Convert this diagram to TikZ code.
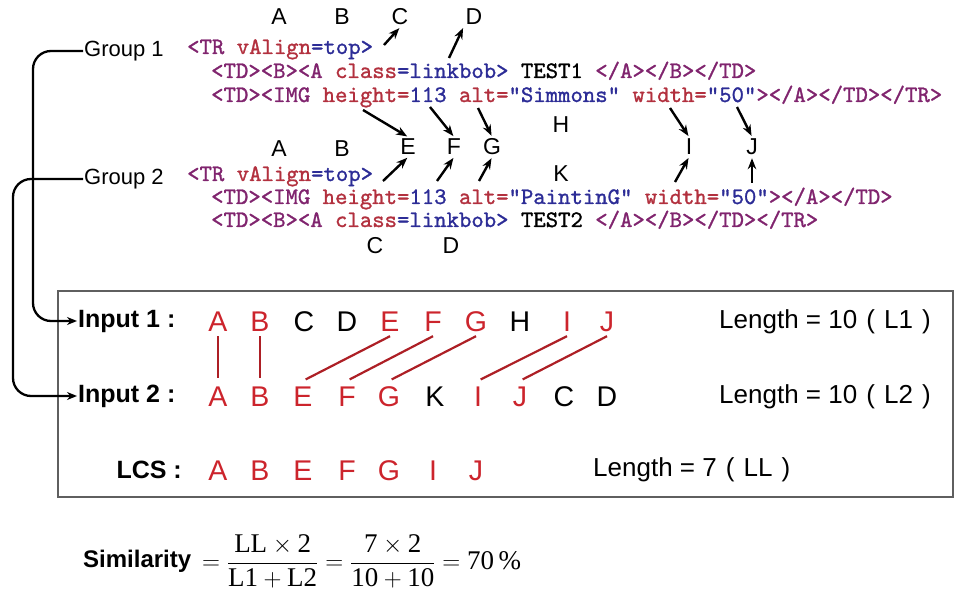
\documentclass[tikz,border=0pt]{standalone}
\usepackage{fontspec}
\setmainfont{Liberation Serif}
\newfontfamily\arial{Liberation Sans}
\newfontfamily\codefont{lmmono10-regular.otf}[FakeBold=1.2]
\usetikzlibrary{arrows.meta,calc}

\definecolor{tagc}{RGB}{128,36,110}
\definecolor{attc}{RGB}{178,48,62}
\definecolor{valc}{RGB}{44,44,150}
\definecolor{lcsred}{RGB}{204,36,44}
\definecolor{framec}{RGB}{95,95,95}

% token colouring for the HTML snippets
\newcommand\tg[1]{\textcolor{tagc}{#1}}
\newcommand\at[1]{\textcolor{attc}{#1}}
\newcommand\vl[1]{\textcolor{valc}{#1}}

\tikzset{
  code/.style={font=\codefont\frenchspacing\fontsize{23.6}{24}\selectfont, inner sep=0pt, anchor=base west},
  tag/.style={font=\arial\fontsize{23}{25}\selectfont, inner sep=2pt},
  grp/.style={font=\arial\fontsize{22}{24}\selectfont, inner sep=1pt, anchor=west},
  arr/.style={-{Stealth[length=11pt,width=8.5pt]}, line width=2.4pt, shorten >=1pt},
  conn/.style={-{Stealth[length=10pt,width=8pt]}, line width=2.3pt, rounded corners=18pt},
  seq/.style={font=\arial\fontsize{28.5}{30}\selectfont, text height=20pt, text depth=0pt, inner xsep=2pt, inner ysep=5pt},
  rowlab/.style={font=\arial\bfseries\fontsize{25}{28}\selectfont, inner sep=1pt},
  len/.style={font=\arial\fontsize{26}{28}\selectfont, anchor=west, inner sep=0pt},
  match/.style={draw=lcsred!85!black, line width=2.2pt},
  frame/.style={draw=framec, line width=1.8pt},
}

\begin{document}
\begin{tikzpicture}[x=1pt, y=-1pt]
\useasboundingbox (0,0) rectangle (959,596);

% ---- first group of table cells ----
\node[grp] (g1) at (83,51) {Group 1};
\node[code] (g1a) at (187,54) {\tg{<TR} \at{vAlign}\vl{=top>}};
\node[code] (g1b) at (211,78) {\tg{<TD><B><A} \at{class}\vl{=linkbob>} TEST1 \tg{</A></B></TD>}};
\node[code] (g1c) at (211,102) {\tg{<TD><IMG} \at{height=}\vl{113} \at{alt=}\vl{"Simmons"} \at{width=}\vl{"50"}\tg{></A></TD></TR>}};

\node[tag] (tA) at (279,17) {A};
\node[tag] (tB) at (342,17) {B};
\node[tag] (tC) at (400,17) {C};
\node[tag] (tD) at (474,17) {D};

% ---- shared letters between the groups ----
\node[tag] (mE) at (408,147) {E};
\node[tag] (mF) at (454,147) {F};
\node[tag] (mG) at (492,147) {G};
\node[tag] (mH) at (561,125) {H};
\node[tag] (mI) at (689,147) {I};
\node[tag] (mJ) at (752,147) {J};

% ---- second group of table cells ----
\node[grp] (g2) at (83,179) {Group 2};
\node[tag] (uA) at (279,149) {A};
\node[tag] (uB) at (342,149) {B};
\node[tag] (mK) at (561,174) {K};
\node[code] (g2a) at (187,181) {\tg{<TR} \at{vAlign}\vl{=top>}};
\node[code] (g2b) at (211,204) {\tg{<TD><IMG} \at{height=}\vl{113} \at{alt=}\vl{"PaintinG"} \at{width=}\vl{"50"}\tg{></A></TD>}};
\node[code] (g2c) at (211,227) {\tg{<TD><B><A} \at{class}\vl{=linkbob>} TEST2 \tg{</A></B></TD></TR>}};
\node[tag] (bC) at (375,246) {C};
\node[tag] (bD) at (451,246) {D};

% ---- pointer arrows ----
\coordinate (cT) at (384,45);
\coordinate (dT) at (449,58);
\draw[arr] (cT) -- (tC.south);
\draw[arr] (dT) -- (tD.south west);

\coordinate (eT1) at (363,110);
\coordinate (fT1) at (430,107);
\coordinate (gT1) at (478,108);
\coordinate (iT1) at (670,108);
\coordinate (jT1) at (737,107);
\draw[arr] (eT1) -- (mE.north);
\draw[arr] (fT1) -- (mF.north);
\draw[arr] (gT1) -- (mG.north);
\draw[arr] (iT1) -- (mI.north);
\draw[arr] (jT1) -- (mJ.north);

\coordinate (eT2) at (383,181);
\coordinate (fT2) at (437,181);
\coordinate (gT2) at (479,181);
\coordinate (iT2) at (675,182);
\coordinate (jT2) at (752,183);
\draw[arr] (eT2) -- (mE.south);
\draw[arr] (fT2) -- (mF.south);
\draw[arr] (gT2) -- (mG.south);
\draw[arr] (iT2) -- (mI.south);
\draw[arr] (jT2) -- (mJ.south);

% ---- comparison panel ----
\draw[frame] (58,291) rectangle (953,497);

\node[rowlab, anchor=west] (in1) at (77,321) {Input 1 :};
\node[rowlab, anchor=west] (in2) at (77,396) {Input 2 :};
\node[rowlab, anchor=east] (lcs) at (183,470) {LCS :};

\foreach \l/\x/\c in {A/218/lcsred, B/260/lcsred, C/304/black, D/347/black, E/390/lcsred,
                      F/433/lcsred, G/476/lcsred, H/520/black, I/567/lcsred, J/607/lcsred}
  \node[seq, text=\c] (r1\l) at (\x,321) {\l};
\foreach \l/\x/\c in {A/218/lcsred, B/260/lcsred, E/303/lcsred, F/347/lcsred, G/389/lcsred,
                      K/435/black, I/478/lcsred, J/520/lcsred, C/564/black, D/607/black}
  \node[seq, text=\c] (r2\l) at (\x,396) {\l};
\foreach \l/\x in {A/218, B/260, E/303, F/347, G/389, I/433, J/476}
  \node[seq, text=lcsred] (r3\l) at (\x,470) {\l};

\foreach \l in {A,B,E,F,G,I,J}
  \draw[match, shorten >=3pt] (r1\l.south) -- (r2\l.north);

\node[len] (len1) at (719,322) {Length = 10\hspace{0.35em}(\hspace{0.35em}L1\hspace{0.35em})};
\node[len] (len2) at (719,397) {Length = 10\hspace{0.35em}(\hspace{0.35em}L2\hspace{0.35em})};
\node[len] (len3) at (593,470) {Length = 7\hspace{0.35em}(\hspace{0.35em}LL\hspace{0.35em})};

% ---- links from the groups to the inputs ----
\coordinate (bend1) at (33,0);
\coordinate (bend2) at (13,0);
\draw[conn] (g1.west) -| (bend1 |- in1.west) -- (in1.west);
\draw[conn] (g2.west) -| (bend2 |- in2.west) -- (in2.west);

% ---- similarity formula ----
\node[font=\arial\bfseries\fontsize{24}{28}\selectfont, anchor=west, inner sep=0pt] (simlab) at (83,561) {Similarity};
\node[font=\fontsize{27}{30}\selectfont, anchor=west, inner sep=0pt] (sim) at (202,561)
  {$\displaystyle =\frac{\mbox{LL}\times\mbox{2}}{\mbox{L1}+\mbox{L2}}
     =\frac{\mbox{7}\times\mbox{2}}{\mbox{10}+\mbox{10}}=\mbox{70\,\%}$};
\end{tikzpicture}
\end{document}
